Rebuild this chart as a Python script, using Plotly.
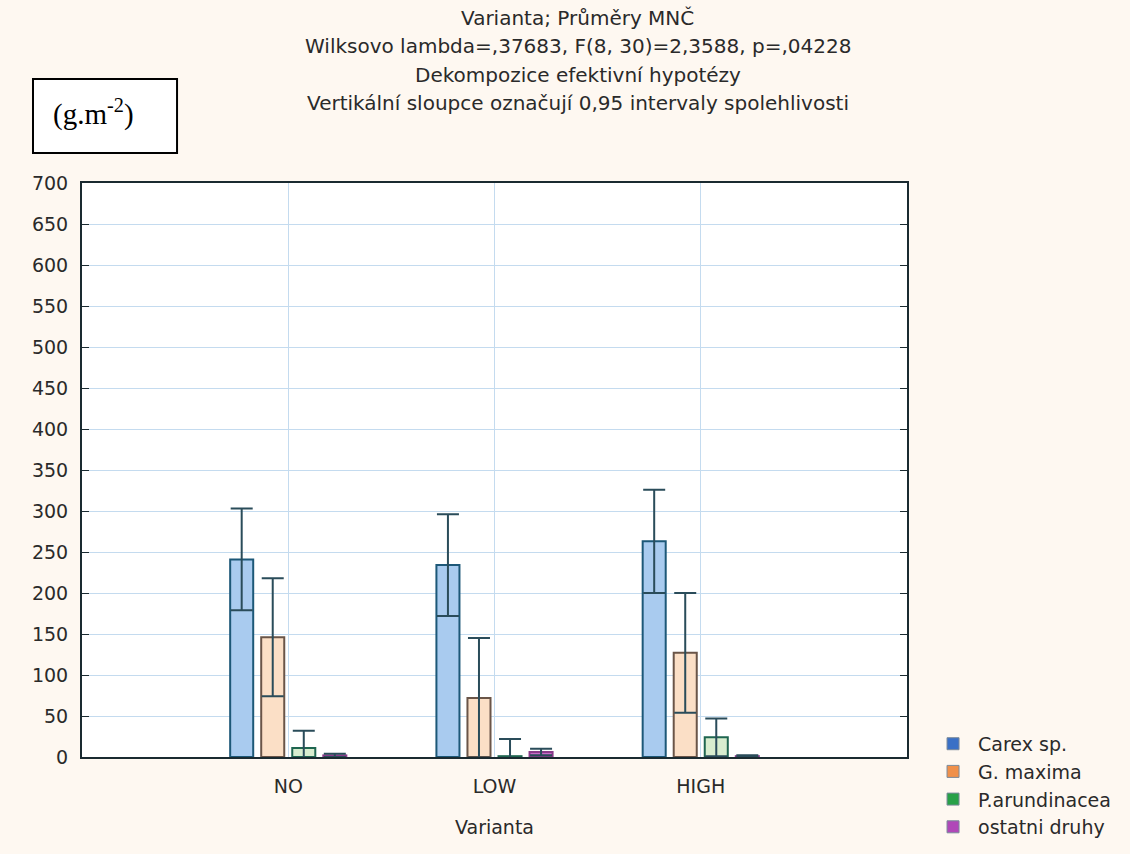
import plotly.graph_objects as go

categories = ["NO", "LOW", "HIGH"]
series_names = ["Carex sp.", "G. maxima", "P.arundinacea", "ostatni druhy"]

carex_mean = [241, 234, 263]
carex_ci = [62, 62, 63]
gmax_mean = [146, 72, 127]
gmax_ci = [72, 73, 73]
parund_mean = [11, 1, 24]
parund_ci = [21, 21, 23]
ostatni_mean = [2, 6, 1]
ostatni_ci = [2, 4, 1]

means = [carex_mean, gmax_mean, parund_mean, ostatni_mean]
cis = [carex_ci, gmax_ci, parund_ci, ostatni_ci]

fill_colors = ["#a9cbef", "#fbdfc6", "#d8edcf", "#c86cc8"]
line_colors = ["#1d5878", "#6a5548", "#1f6650", "#8a3a8a"]
legend_colors = ["#3a70c6", "#f0904a", "#28a148", "#b048b8"]
err_color = "#2a4c5a"

x_pos = [1, 2, 3]

fig = go.Figure()
for i, (name, m, c, fc, lc) in enumerate(zip(series_names, means, cis, fill_colors, line_colors)):
    fig.add_trace(go.Bar(
        x=x_pos, y=m, name=name, showlegend=False, offsetgroup=str(i),
        marker=dict(color=fc, line=dict(color=lc, width=2)),
        error_y=dict(type="data", array=c, visible=True, color=err_color,
                     thickness=2, width=11),
        cliponaxis=True,
    ))
for i, (name, lc) in enumerate(zip(series_names, legend_colors)):
    fig.add_trace(go.Bar(x=[None], y=[None], name=name, offsetgroup=str(i),
                         marker=dict(color=lc, line=dict(color="#7a8a9a", width=1))))

font_main = "DejaVu Sans"
title_lines = [
    "Varianta; Průměry MNČ",
    "Wilksovo lambda=,37683, F(8, 30)=2,3588, p=,04228",
    "Dekompozice efektivní hypotézy",
    "Vertikální sloupce označují 0,95 intervaly spolehlivosti",
]
title_y = [1.2875, 1.2387, 1.1882, 1.1394]
annotations = []
for t, yy in zip(title_lines, title_y):
    annotations.append(dict(text=t, x=0.601, y=yy, xref="paper", yref="paper",
                            showarrow=False, xanchor="center", yanchor="middle",
                            font=dict(family=font_main, size=20, color="#2a2a2a")))
annotations.append(dict(text="(g.m<sup>-2</sup>)", x=-0.037, y=1.122, xref="paper", yref="paper",
                        showarrow=False, xanchor="left", yanchor="middle",
                        font=dict(family="Liberation Serif", size=29, color="#000000")))

shapes = [dict(type="rect", xref="paper", yref="paper", x0=-0.0594, x1=0.1152,
               y0=1.0523, y1=1.1812, line=dict(color="#000000", width=2),
               fillcolor="#ffffff", layer="below")]

fig.update_layout(
    width=1130, height=854,
    margin=dict(l=82, r=223, t=183, b=97, autoexpand=False),
    paper_bgcolor="#fef8f1",
    plot_bgcolor="#ffffff",
    barmode="group", bargap=0.398, bargroupgap=0.258,
    font=dict(family=font_main, size=19, color="#2a2a2a"),
    xaxis=dict(range=[0, 4], tickmode="array", tickvals=x_pos, ticktext=categories,
               showgrid=True, gridcolor="#c4dbef", gridwidth=1,
               showline=True, linecolor="#1a2a30", linewidth=2, mirror=True,
               ticks="", zeroline=False, ticklabelstandoff=11, automargin=False,
               title=dict(text="Varianta", font=dict(size=19), standoff=25),
               tickfont=dict(size=19)),
    yaxis=dict(range=[0, 700], tickmode="linear", tick0=0, dtick=50,
               showgrid=True, gridcolor="#c4dbef", gridwidth=1,
               showline=True, linecolor="#1a2a30", linewidth=2, mirror="ticks",
               ticks="inside", ticklen=7, tickcolor="#1a2a30", tickwidth=1,
               zeroline=False, ticklabelstandoff=8, automargin=False,
               tickfont=dict(size=19)),
    legend=dict(x=1.0255, y=0.056, xanchor="left", yanchor="top",
                bgcolor="rgba(0,0,0,0)", font=dict(size=19), tracegroupgap=0,
                itemwidth=40),
    annotations=annotations,
    shapes=shapes,
)

fig.write_html("out.html")
